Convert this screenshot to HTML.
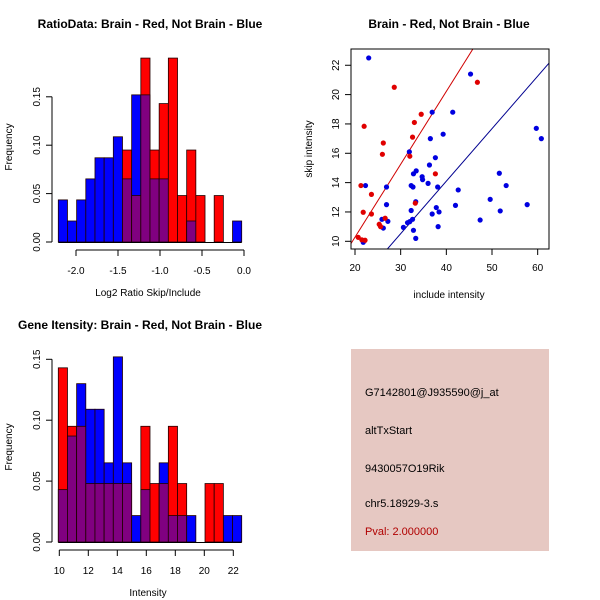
<!DOCTYPE html>
<html><head><meta charset="utf-8"><style>
body{margin:0;background:#fff}
svg{display:block;font-family:"Liberation Sans",sans-serif}
</style></head><body>
<svg id="s" width="600" height="600" viewBox="0 0 600 600">
<rect x="0" y="0" width="600" height="600" fill="#fff"/>
<g id="h1"></g>
<g id="sc"></g>
<g id="h2"></g>
<g>
<rect x="351" y="349" width="198" height="202" fill="#e6c8c2"/>
<text x="365" y="396" font-size="11">G7142801@J935590@j_at</text>
<text x="365" y="434" font-size="11">altTxStart</text>
<text x="365" y="472" font-size="11">9430057O19Rik</text>
<text x="365" y="507" font-size="11">chr5.18929-3.s</text>
<text x="365" y="535" font-size="11" fill="#b00000">Pval: 2.000000</text>
</g>
</svg>
<script>
// ---- data ----
const ratioBlue=[0.0435,0.0217,0.0435,0.0652,0.087,0.087,0.1087,0.0652,0.152,0.152,0.0652,0.0652,0,0,0.0217,0,0,0,0,0.0217];
const ratioRed=[0,0,0,0,0,0,0,0.095,0.048,0.19,0.095,0.143,0.19,0.048,0.095,0.048,0,0.048,0,0];
const ratioTicks=[-2.0,-1.5,-1.0,-0.5,0.0];
const ratioTickLabels=["-2.0","-1.5","-1.0","-0.5","0.0"];
const freqTicks=[0,0.05,0.10,0.15];
const freqTickLabels=["0.00","0.05","0.10","0.15"];
const intBlue=[0.043,0.087,0.13,0.109,0.109,0.065,0.152,0.065,0.0217,0.043,0,0.065,0.0217,0.0217,0.0217,0,0,0,0.0217,0.0217];
const intRed=[0.143,0.095,0.095,0.048,0.048,0.048,0.048,0.048,0,0.095,0.048,0.048,0.095,0.048,0,0,0.048,0.048,0,0];
const intTicks=[10,12,14,16,18,20,22];
const redX=[20.7,21.5,22.2,21.3,22,21.8,23.6,23.6,25.3,25.6,26,26.2,26.6,28.6,32,32.6,33,34.5,33.2,37.6,46.8];
const redY=[10.27,10.1,10.07,13.8,17.84,11.98,13.2,11.86,11.16,11.0,15.93,16.7,11.57,20.5,15.8,17.1,18.1,18.66,12.6,14.6,20.84];
const blueX=[23,21.8,22.3,25.9,26.2,26.9,26.9,27.2,30.6,31.5,32,32.6,32.3,31.9,32.3,32.7,32.8,33.4,32.8,33.3,33.3,34.7,34.8,36,36.3,36.5,36.9,37.6,36.9,37.8,38.1,38.4,38.2,39.3,41.4,42,42.6,45.3,47.4,49.6,51.6,51.8,53.1,57.7,59.7,60.8];
const blueY=[22.5,9.93,13.8,11.5,10.9,13.7,12.5,11.36,10.95,11.27,11.34,11.5,12.1,16.1,13.8,13.7,14.6,14.8,10.75,10.2,12.7,14.4,14.2,13.95,15.2,17,18.8,15.7,11.86,12.3,13.7,12,11,17.3,18.8,12.45,13.5,21.4,11.45,12.86,14.64,12.07,13.8,12.5,17.7,17];
const scXTicks=[20,30,40,50,60];
const scYTicks=[10,12,14,16,18,20,22];
const redLine=[0.34,0.497];  // intercept, slope
const blueLine=[-0.22,0.358];

const NS="http://www.w3.org/2000/svg";
function mk(p,t,a,name){const e=document.createElementNS(NS,t);for(const k in a)e.setAttribute(k,a[k]);


p.appendChild(e);return e;}
function txt(p,x,y,s,opts,name){const e=mk(p,'text',Object.assign({x:x,y:y,'font-size':10,'text-anchor':'middle'},opts||{}),name);e.textContent=s;return e;}

function hist(g,blue,red,x0,bw,xs,y0,ys,ticks,labels,xTicks,xLabels,xs2,title,xlab,titleX,titleY){
  const n=blue.length;
  for(let i=0;i<n;i++){
    const b=blue[i],r=red[i],x=x0+i*bw;
    const hi=Math.max(b,r),lo=Math.min(b,r);
    if(hi>0){mk(g,'rect',{x:x,y:y0-hi*ys,width:bw,height:hi*ys,fill:b>=r?'#0000ff':'#ff0000',stroke:'#200000','stroke-width':0.8},'bar-'+i);}
    if(lo>0){mk(g,'rect',{x:x,y:y0-lo*ys,width:bw,height:lo*ys,fill:'#800080',stroke:'#200000','stroke-width':0.8},'overlap-bar-'+i);}
  }
  const ax=52;
  mk(g,'line',{x1:ax,x2:ax,y1:y0,y2:y0-ticks[ticks.length-1]*ys,stroke:'#000'},'y-axis');
  ticks.forEach((t,i)=>{const y=y0-t*ys;mk(g,'line',{x1:ax-6,x2:ax,y1:y,y2:y,stroke:'#000'},'y-tick');
    txt(g,0,0,labels[i],{transform:`translate(${ax-12},${y}) rotate(-90)`},'y-tick-label');});
  mk(g,'line',{x1:x0,x2:x0+n*bw,y1:y0+0.5,y2:y0+0.5,stroke:'#000'},'baseline');
  const ty=y0+8;
  mk(g,'line',{x1:xs2(xTicks[0]),x2:xs2(xTicks[xTicks.length-1]),y1:ty,y2:ty,stroke:'#000'},'x-axis');
  xTicks.forEach((t,i)=>{const x=xs2(t);mk(g,'line',{x1:x,x2:x,y1:ty,y2:ty+6,stroke:'#000'},'x-tick');
    txt(g,x,ty+24,xLabels[i],{},'x-tick-label');});
  txt(g,0,0,'Frequency',{transform:`translate(12,${y0-95}) rotate(-90)`},'y-axis-title');
  txt(g,148,ty+46,xlab,{},'x-axis-title');
  txt(g,titleX,titleY,title,{'font-size':12,'font-weight':'bold'},'chart-title');
}
// histogram 1
const s1=v=>76+(v+2)*84;
hist(document.getElementById('h1'),ratioBlue,ratioRed,58.3,9.17,0,242,48.4/0.05,freqTicks,freqTickLabels,ratioTicks,ratioTickLabels,s1,
 'RatioData: Brain - Red, Not Brain - Blue','Log2 Ratio Skip/Include',150,28);
// histogram 2
const s2=v=>59.3+(v-10)*14.5;
hist(document.getElementById('h2'),intBlue,intRed,58.3,9.17,0,542,182.7/0.15,freqTicks,freqTickLabels,intTicks,intTicks.map(String),s2,
 'Gene Itensity: Brain - Red, Not Brain - Blue','Intensity',140,329);
// scatter
(function(){
  const g=document.getElementById('sc');
  const X=v=>355+(v-20)*4.567, Y=v=>241.3-(v-10)*14.67;
  const L=351,R=549,T=49,B=249;
  const cp=mk(g,'clipPath',{id:'cp'},'clip');
  mk(cp,'rect',{x:L,y:T,width:R-L,height:B-T},'clip-rect');
  const x1=19,x2=63;
  mk(g,'line',{x1:X(x1),y1:Y(redLine[0]+redLine[1]*x1),x2:X(x2),y2:Y(redLine[0]+redLine[1]*x2),stroke:'#d00000','clip-path':'url(#cp)'},'red-fit-line');
  mk(g,'line',{x1:X(x1),y1:Y(blueLine[0]+blueLine[1]*x1),x2:X(x2),y2:Y(blueLine[0]+blueLine[1]*x2),stroke:'#000090','clip-path':'url(#cp)'},'blue-fit-line');
  blueX.forEach((v,i)=>mk(g,'circle',{cx:X(v),cy:Y(blueY[i]),r:2.6,fill:'#0000e0'},'blue-point'));
  redX.forEach((v,i)=>mk(g,'circle',{cx:X(v),cy:Y(redY[i]),r:2.6,fill:'#e00000'},'red-point'));
  mk(g,'rect',{x:L,y:T,width:R-L,height:B-T,fill:'none',stroke:'#000'},'plot-frame');
  scXTicks.forEach(t=>{const x=X(t);mk(g,'line',{x1:x,x2:x,y1:B,y2:B+6,stroke:'#000'},'x-tick');txt(g,x,B+22,String(t),{},'x-tick-label');});
  scYTicks.forEach(t=>{const y=Y(t);mk(g,'line',{x1:L-6,x2:L,y1:y,y2:y,stroke:'#000'},'y-tick');
    txt(g,0,0,String(t),{transform:`translate(${L-12},${y}) rotate(-90)`},'y-tick-label');});
  txt(g,449,298,'include intensity',{},'x-axis-title');
  txt(g,0,0,'skip intensity',{transform:'translate(312,149) rotate(-90)'},'y-axis-title');
  txt(g,449,28,'Brain - Red, Not Brain - Blue',{'font-size':12,'font-weight':'bold'},'chart-title');
})();
</script>
</body></html>
